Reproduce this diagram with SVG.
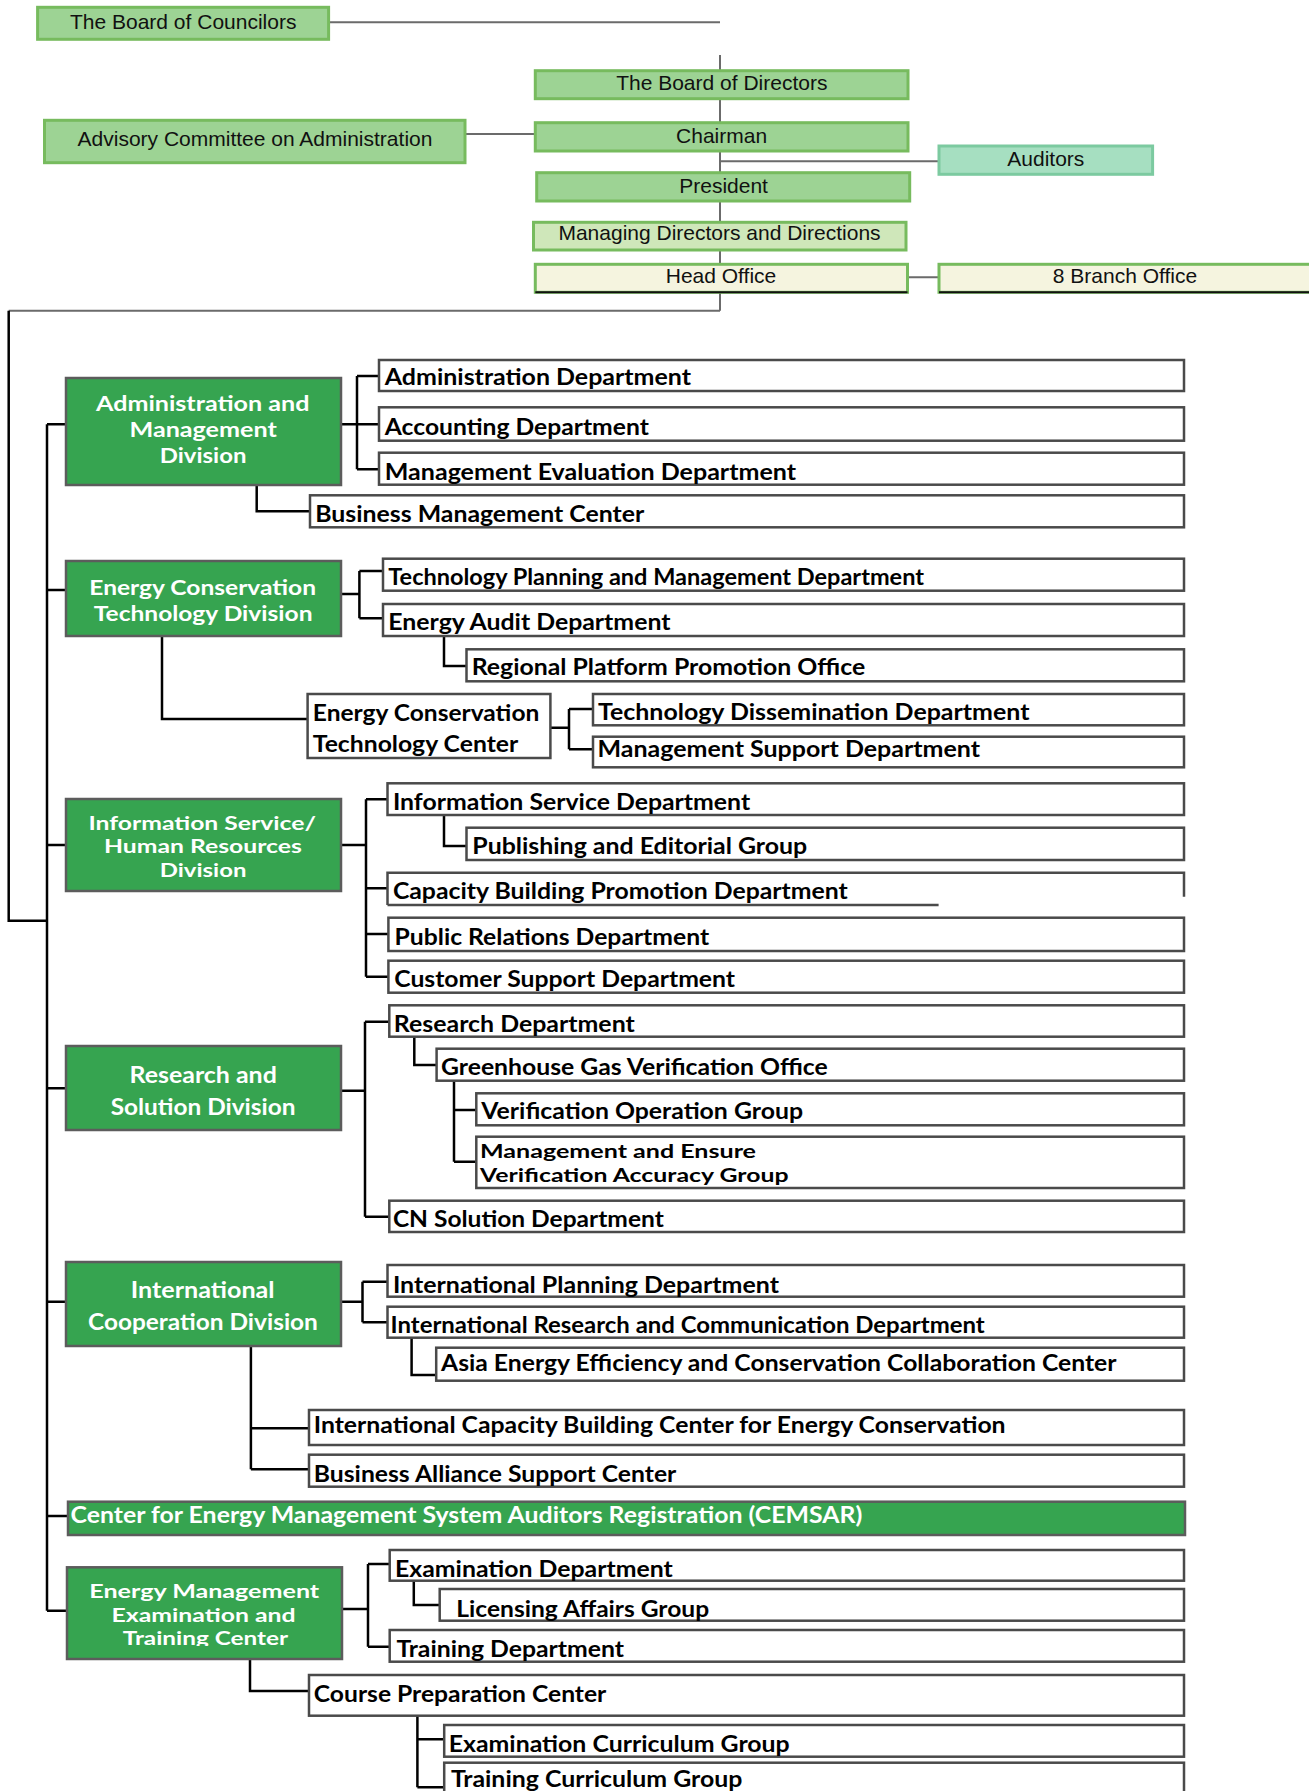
<svg xmlns="http://www.w3.org/2000/svg" width="1309" height="1791" viewBox="0 0 1309 1791">
<style>
.t{font-family:"Liberation Sans",Arial,sans-serif;font-size:21px;fill:#111;text-anchor:middle}
.d{font-family:Lato,"Liberation Sans",sans-serif;font-weight:700;font-size:23px;fill:#000}
.w{font-family:Lato,"Liberation Sans",sans-serif;font-weight:700;font-size:23px;fill:#fff}
.w2{font-family:Lato,"Liberation Sans",sans-serif;font-weight:700;font-size:21px;fill:#fff}
.w3{font-family:Lato,"Liberation Sans",sans-serif;font-weight:700;font-size:19.4px;fill:#fff}
.box{fill:#fff;stroke:#4a4a4a;stroke-width:2.5}
.dv{fill:#36a450;stroke:#5c5c5c;stroke-width:2.5}
.top{fill:#9dd394;stroke:#77bb5e;stroke-width:3}
.md{fill:#cfe7ba;stroke:#77bb5e;stroke-width:3}
.cr{fill:#f5f4df;stroke:#77bb5e;stroke-width:3}
.au{fill:#a6dfc1;stroke:#7ccaa0;stroke-width:3}
.tc{fill:none;stroke:#6b6b6b;stroke-width:2}
.bc{fill:none;stroke:#000;stroke-width:2.5}
</style>
<defs>
<clipPath id="emeclip"><rect x="60" y="1560" width="290" height="86"/></clipPath>
</defs>

<g id="connectors">
<path class="tc" d="M328.7 22.3H720M720 55V310.7M465 134H535M720 161.3H939M907.5 277.3H939M720 310.7H8.7"/>
<path class="bc" d="M8.7 310.7V920.7H47M47 424.3V1610.7M47 424.3H66M47 590H66M47 845H66M47 1088.3H66M47 1301.7H66M47 1516H68M47 1610.7H67"/>
<path class="bc" d="M341 424.3H379M357 376V469.3M357 376H379M357 469.3H379M256.7 485V511.3H310"/>
<path class="bc" d="M341 594H359.4M359.4 571V618.3M359.4 571H383M359.4 618.3H383M444 636V666H466.5M162 636V719H307.6M550.4 727.7H569M569 709V749.3M569 709H593M569 749.3H593"/>
<path class="bc" d="M341 845H366M366 799.3V976.7M366 799.3H387.5M366 888.3H387.5M366 934H388.4M366 976.7H388.4M444 815V846H466.5"/>
<path class="bc" d="M341 1090.7H365M365 1021.7V1216.7M365 1021.7H389.3M365 1216.7H389.3M414.3 1036.7V1065H436.6M454 1080.7V1161.7M454 1110H476.3M454 1161.7H476.3"/>
<path class="bc" d="M341 1301.7H362.5M362.5 1281.7V1322.3M362.5 1281.7H387.5M362.5 1322.3H387.5M411.6 1337.7V1375H436.2M250.9 1346V1469.3M250.9 1428.3H309M250.9 1469.3H309"/>
<path class="bc" d="M342 1609H368M368 1564V1646.7M368 1564H389.7M368 1646.7H389.7M413.8 1580.7V1605H439.7M250 1659V1691H309M417.4 1715.7V1787.3M417.4 1739.3H444.2M417.4 1787.3H444.2"/>
</g>

<g id="board-councilors"><rect class="top" x="37.6" y="7.3" width="291" height="32"/><text class="t" x="183.2" y="29.3">The Board of Councilors</text></g>
<g id="board-directors"><rect class="top" x="535.3" y="70.7" width="372.7" height="28"/><text class="t" x="721.8" y="90">The Board of Directors</text></g>
<g id="advisory"><rect class="top" x="44.5" y="120.3" width="420.5" height="42.4"/><text class="t" x="255" y="146">Advisory Committee on Administration</text></g>
<g id="chairman"><rect class="top" x="535.3" y="122.7" width="372.7" height="28.3"/><text class="t" x="721.6" y="142.7">Chairman</text></g>
<g id="president"><rect class="top" x="536.7" y="172.7" width="373" height="28.3"/><text class="t" x="723.6" y="193.3">President</text></g>
<g id="auditors"><rect class="au" x="939" y="146" width="213.6" height="28.3"/><text class="t" x="1045.8" y="165.7">Auditors</text></g>
<g id="managing"><rect class="md" x="533.5" y="222.3" width="372.5" height="27.7"/><text class="t" x="719.5" y="240">Managing Directors and Directions</text></g>
<g id="head-office"><rect class="cr" x="535.3" y="264.3" width="372.2" height="28"/><path d="M535.3 292.3H907.5" stroke="#111" stroke-width="2"/><text class="t" x="721" y="283.3">Head Office</text></g>
<g id="branch-office"><rect class="cr" x="939" y="264.3" width="373" height="28"/><path d="M939 292.3H1309" stroke="#111" stroke-width="2"/><text class="t" x="1125" y="283.3">8 Branch Office</text></g>

<g id="div-admin"><rect class="dv" x="66" y="378" width="275" height="107"/>
<text class="w2" x="96" y="411" textLength="213.4" lengthAdjust="spacingAndGlyphs">Administration and</text>
<text class="w2" x="129.5" y="436.7" textLength="147.3" lengthAdjust="spacingAndGlyphs">Management</text>
<text class="w2" x="159.8" y="463.3" textLength="86.6" lengthAdjust="spacingAndGlyphs">Division</text></g>
<g id="admin-dept"><rect class="box" x="379" y="360" width="805" height="31"/><text class="d" x="384.8" y="385" textLength="306.2" lengthAdjust="spacingAndGlyphs">Administration Department</text></g>
<g id="accounting-dept"><rect class="box" x="379" y="407.3" width="805" height="33.4"/><text class="d" x="384.8" y="435" textLength="264" lengthAdjust="spacingAndGlyphs">Accounting Department</text></g>
<g id="mgmt-eval-dept"><rect class="box" x="379" y="452.7" width="805" height="32"/><text class="d" x="384.8" y="480" textLength="411.3" lengthAdjust="spacingAndGlyphs">Management Evaluation Department</text></g>
<g id="business-mgmt-center"><rect class="box" x="310" y="495.3" width="874" height="32"/><text class="d" x="315.2" y="521.7" textLength="329" lengthAdjust="spacingAndGlyphs">Business Management Center</text></g>

<g id="div-ect"><rect class="dv" x="66" y="561" width="275" height="75"/>
<text class="w2" x="89.3" y="595" textLength="226.7" lengthAdjust="spacingAndGlyphs">Energy Conservation</text>
<text class="w2" x="93.75" y="620.7" textLength="218.75" lengthAdjust="spacingAndGlyphs">Technology Division</text></g>
<g id="tech-planning-dept"><rect class="box" x="383" y="558.7" width="801" height="32"/><text class="d" x="388.3" y="585" textLength="535.7" lengthAdjust="spacingAndGlyphs">Technology Planning and Management Department</text></g>
<g id="energy-audit-dept"><rect class="box" x="383" y="604" width="801" height="32"/><text class="d" x="388.3" y="630" textLength="282.2" lengthAdjust="spacingAndGlyphs">Energy Audit Department</text></g>
<g id="regional-platform"><rect class="box" x="466.5" y="649.3" width="717.5" height="32"/><text class="d" x="471.7" y="675" textLength="393.5" lengthAdjust="spacingAndGlyphs">Regional Platform Promotion Office</text></g>
<g id="ect-center"><rect class="box" x="307.6" y="694" width="242.8" height="64"/>
<text class="d" x="312.8" y="720.7" textLength="226.5" lengthAdjust="spacingAndGlyphs">Energy Conservation</text>
<text class="d" x="312.8" y="751.7" textLength="205.4" lengthAdjust="spacingAndGlyphs">Technology Center</text></g>
<g id="tech-dissemination"><rect class="box" x="593" y="694" width="591" height="31.3"/><text class="d" x="598" y="720" textLength="431.5" lengthAdjust="spacingAndGlyphs">Technology Dissemination Department</text></g>
<g id="mgmt-support"><rect class="box" x="593" y="736.7" width="591" height="30.6"/><text class="d" x="597.5" y="756.7" textLength="382.5" lengthAdjust="spacingAndGlyphs">Management Support Department</text></g>

<g id="div-info"><rect class="dv" x="66" y="799" width="275" height="92"/>
<text class="w3" x="88.4" y="830" textLength="227.6" lengthAdjust="spacingAndGlyphs">Information Service/</text>
<text class="w3" x="104" y="853.3" textLength="197.8" lengthAdjust="spacingAndGlyphs">Human Resources</text>
<text class="w3" x="159.8" y="877.3" textLength="86.6" lengthAdjust="spacingAndGlyphs">Division</text></g>
<g id="info-service-dept"><rect class="box" x="387.5" y="783.3" width="796.5" height="31.7"/><text class="d" x="392.9" y="810" textLength="357.3" lengthAdjust="spacingAndGlyphs">Information Service Department</text></g>
<g id="publishing-group"><rect class="box" x="466.5" y="827.7" width="717.5" height="32.3"/><text class="d" x="472.3" y="854" textLength="334.9" lengthAdjust="spacingAndGlyphs">Publishing and Editorial Group</text></g>
<g id="capacity-building-dept"><path d="M387.5 905V872.7H1184V896.7M387.5 905H938.6" fill="none" stroke="#4a4a4a" stroke-width="2.5"/><text class="d" x="392.9" y="899.3" textLength="454.9" lengthAdjust="spacingAndGlyphs">Capacity Building Promotion Department</text></g>
<g id="public-relations-dept"><rect class="box" x="388.4" y="917.7" width="795.6" height="33.3"/><text class="d" x="394.6" y="944.5" textLength="314.5" lengthAdjust="spacingAndGlyphs">Public Relations Department</text></g>
<g id="customer-support-dept"><rect class="box" x="388.4" y="960.7" width="795.6" height="32"/><text class="d" x="394.2" y="987.3" textLength="340.9" lengthAdjust="spacingAndGlyphs">Customer Support Department</text></g>

<g id="div-research"><rect class="dv" x="66" y="1046" width="275" height="84"/>
<text class="w" x="129.5" y="1083.3" textLength="147.3" lengthAdjust="spacingAndGlyphs">Research and</text>
<text class="w" x="110.7" y="1115" textLength="184.8" lengthAdjust="spacingAndGlyphs">Solution Division</text></g>
<g id="research-dept"><rect class="box" x="389.3" y="1005.3" width="794.7" height="31.4"/><text class="d" x="393.8" y="1031.7" textLength="241" lengthAdjust="spacingAndGlyphs">Research Department</text></g>
<g id="ghg-office"><rect class="box" x="436.6" y="1048.7" width="747.4" height="32"/><text class="d" x="441" y="1075" textLength="386.7" lengthAdjust="spacingAndGlyphs">Greenhouse Gas Verification Office</text></g>
<g id="verification-op-group"><rect class="box" x="476.3" y="1093.3" width="707.7" height="32"/><text class="d" x="481.3" y="1119.3" textLength="321.7" lengthAdjust="spacingAndGlyphs">Verification Operation Group</text></g>
<g id="mgmt-ensure-group"><rect class="box" x="476.3" y="1136.7" width="707.7" height="51.3"/>
<text class="w3" style="fill:#000" x="480" y="1158.3" textLength="276" lengthAdjust="spacingAndGlyphs">Management and Ensure</text>
<text class="w3" style="fill:#000" x="480" y="1181.7" textLength="308.5" lengthAdjust="spacingAndGlyphs">Verification Accuracy Group</text></g>
<g id="cn-solution-dept"><rect class="box" x="389.3" y="1200.7" width="794.7" height="31.3"/><text class="d" x="392.9" y="1226.7" textLength="270.9" lengthAdjust="spacingAndGlyphs">CN Solution Department</text></g>

<g id="div-intl"><rect class="dv" x="66" y="1262" width="275" height="84"/>
<text class="w" x="130.8" y="1298.3" textLength="143.8" lengthAdjust="spacingAndGlyphs">International</text>
<text class="w" x="88" y="1330" textLength="229.9" lengthAdjust="spacingAndGlyphs">Cooperation Division</text></g>
<g id="intl-planning-dept"><rect class="box" x="387.5" y="1265" width="796.5" height="31.7"/><text class="d" x="392.9" y="1292.7" textLength="386.1" lengthAdjust="spacingAndGlyphs">International Planning Department</text></g>
<g id="intl-research-dept"><rect class="box" x="387.5" y="1306.7" width="796.5" height="31"/><text class="d" x="390.6" y="1332.7" textLength="594.1" lengthAdjust="spacingAndGlyphs">International Research and Communication Department</text></g>
<g id="asia-center"><rect class="box" x="436.2" y="1347.7" width="747.8" height="33"/><text class="d" x="441" y="1370.7" textLength="675.5" lengthAdjust="spacingAndGlyphs">Asia Energy Efficiency and Conservation Collaboration Center</text></g>
<g id="intl-capacity-center"><rect class="box" x="309" y="1410" width="875" height="35"/><text class="d" x="313.8" y="1433.3" textLength="691.8" lengthAdjust="spacingAndGlyphs">International Capacity Building Center for Energy Conservation</text></g>
<g id="business-alliance-center"><rect class="box" x="309" y="1454.7" width="875" height="32"/><text class="d" x="313.8" y="1481.7" textLength="362.5" lengthAdjust="spacingAndGlyphs">Business Alliance Support Center</text></g>

<g id="cemsar"><rect class="dv" x="68" y="1501.7" width="1117" height="33.3"/><text class="w" x="70.5" y="1523.3" textLength="791.8" lengthAdjust="spacingAndGlyphs">Center for Energy Management System Auditors Registration (CEMSAR)</text></g>

<g id="div-eme"><rect class="dv" x="67" y="1567.3" width="275" height="91.7"/>
<g clip-path="url(#emeclip)">
<text class="w3" x="89.3" y="1598.3" textLength="229.9" lengthAdjust="spacingAndGlyphs">Energy Management</text>
<text class="w3" x="111.6" y="1621.7" textLength="183.9" lengthAdjust="spacingAndGlyphs">Examination and</text>
<text class="w3" x="122.8" y="1645" textLength="165.2" lengthAdjust="spacingAndGlyphs">Training Center</text></g></g>
<g id="exam-dept"><rect class="box" x="389.7" y="1550" width="794.3" height="30.7"/><text class="d" x="395" y="1576.7" textLength="277.8" lengthAdjust="spacingAndGlyphs">Examination Department</text></g>
<g id="licensing-group"><rect class="box" x="439.7" y="1589" width="744.3" height="31.7"/><text class="d" x="456.3" y="1616.7" textLength="252.8" lengthAdjust="spacingAndGlyphs">Licensing Affairs Group</text></g>
<g id="training-dept"><rect class="box" x="389.7" y="1630" width="794.3" height="31.7"/><text class="d" x="396.4" y="1657.3" textLength="227.7" lengthAdjust="spacingAndGlyphs">Training Department</text></g>
<g id="course-prep-center"><rect class="box" x="309" y="1675" width="875" height="40.7"/><text class="d" x="313.8" y="1701.7" textLength="292.5" lengthAdjust="spacingAndGlyphs">Course Preparation Center</text></g>
<g id="exam-curriculum-group"><rect class="box" x="444.2" y="1725" width="739.8" height="31.7"/><text class="d" x="448.7" y="1751.7" textLength="341" lengthAdjust="spacingAndGlyphs">Examination Curriculum Group</text></g>
<g id="training-curriculum-group"><rect class="box" x="444.2" y="1762.7" width="739.8" height="40"/><text class="d" x="450.9" y="1786.7" textLength="291.5" lengthAdjust="spacingAndGlyphs">Training Curriculum Group</text></g>
</svg>
